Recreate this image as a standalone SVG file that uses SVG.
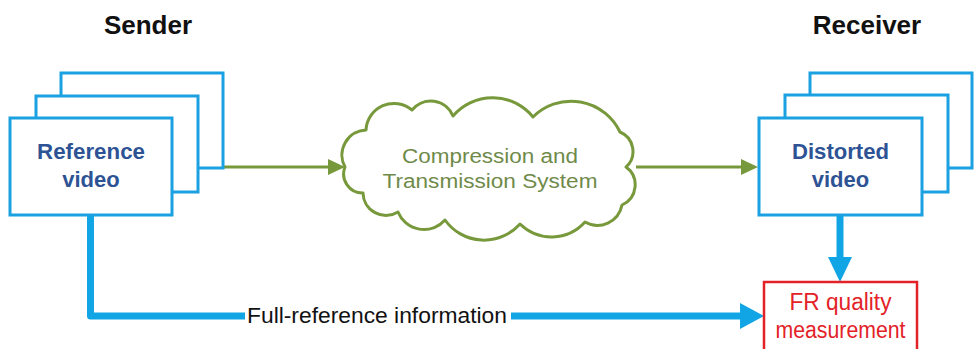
<svg xmlns="http://www.w3.org/2000/svg" width="974" height="349" viewBox="0 0 974 349">
<defs>
<style>
.frame{fill:#ffffff;stroke:#1ba1e2;stroke-width:3}
.vid{font-family:"Liberation Sans",Arial,sans-serif;font-weight:bold;font-size:22px;fill:#2e5395;text-anchor:middle}
.hdr{font-family:"Liberation Sans",Arial,sans-serif;font-weight:bold;font-size:26px;fill:#111111;text-anchor:middle}
.cl{font-family:"Liberation Sans",Arial,sans-serif;font-size:20px;fill:#6f8a4a;text-anchor:middle}
.fr{font-family:"Liberation Sans",Arial,sans-serif;font-size:23px;fill:#e32228;text-anchor:middle}
.lbl{font-family:"Liberation Sans",Arial,sans-serif;font-size:22px;fill:#111111;text-anchor:middle}
.gline{stroke:#77993b;stroke-width:3;fill:none}
.garrow{fill:#77993b}
.bline{stroke:#12a5e6;stroke-width:7;fill:none;stroke-linejoin:round}
.barrow{fill:#12a5e6}
</style>
</defs>
<rect width="974" height="349" fill="#ffffff"/>
<g id="titles">
<text class="hdr" x="148" y="34">Sender</text>
<text class="hdr" x="867" y="34">Receiver</text>
</g>
<g id="connectors">
<line class="gline" x1="224" y1="167" x2="331" y2="167"/>
<polygon class="garrow" points="328,159 345,167 328,175"/>
<line class="gline" x1="636" y1="167" x2="743" y2="167"/>
<polygon class="garrow" points="741,159 758,167 741,175"/>
<polyline class="bline" points="90.5,215 90.5,316 743,316"/>
<polygon class="barrow" points="740,303 764,316 740,329"/>
<line class="bline" x1="840" y1="215" x2="840" y2="259"/>
<polygon class="barrow" points="828,257 840,282 852,257"/>
<rect x="245" y="302" width="266" height="28" fill="#ffffff"/>
<text class="lbl" x="377" y="323" textLength="260" lengthAdjust="spacingAndGlyphs">Full-reference information</text>
</g>
<g id="reference-video">
<rect class="frame" x="61" y="73" width="162" height="95"/>
<rect class="frame" x="36" y="96" width="162" height="96"/>
<rect class="frame" x="10" y="118" width="162" height="97"/>
<text class="vid" x="91" y="159" textLength="108" lengthAdjust="spacingAndGlyphs">Reference</text>
<text class="vid" x="91" y="187">video</text>
</g>
<g id="cloud">
<path d="M345,167 A25,25 0 0 1 366,130 A28,28 0 0 1 412,110 A24,24 0 0 1 453,116 A52,52 0 0 1 533,117 A54,54 0 0 1 620,132 A21,21 0 0 1 626,167 A22,22 0 0 1 622,205 A25,25 0 0 1 585,222 A45,45 0 0 1 520,224 A48,48 0 0 1 445,220 A28,28 0 0 1 398,212 A23,23 0 0 1 363,193 A19,19 0 0 1 345,167 Z" fill="#ffffff" stroke="#77993b" stroke-width="3" stroke-linejoin="round"/>
<text class="cl" x="490" y="163" textLength="176" lengthAdjust="spacingAndGlyphs">Compression and</text>
<text class="cl" x="490" y="188" textLength="215" lengthAdjust="spacingAndGlyphs">Transmission System</text>
</g>
<g id="distorted-video">
<rect class="frame" x="810" y="73" width="162" height="95"/>
<rect class="frame" x="785" y="95" width="163" height="97"/>
<rect class="frame" x="759" y="118" width="163" height="97"/>
<text class="vid" x="840.5" y="159" textLength="97" lengthAdjust="spacingAndGlyphs">Distorted</text>
<text class="vid" x="840.5" y="187">video</text>
</g>
<g id="fr-quality">
<rect x="764" y="282" width="153" height="80" fill="#ffffff" stroke="#e32228" stroke-width="2.5"/>
<text class="fr" x="840.5" y="310" textLength="102" lengthAdjust="spacingAndGlyphs">FR quality</text>
<text class="fr" x="840.5" y="338" textLength="130" lengthAdjust="spacingAndGlyphs">measurement</text>
</g>
</svg>
